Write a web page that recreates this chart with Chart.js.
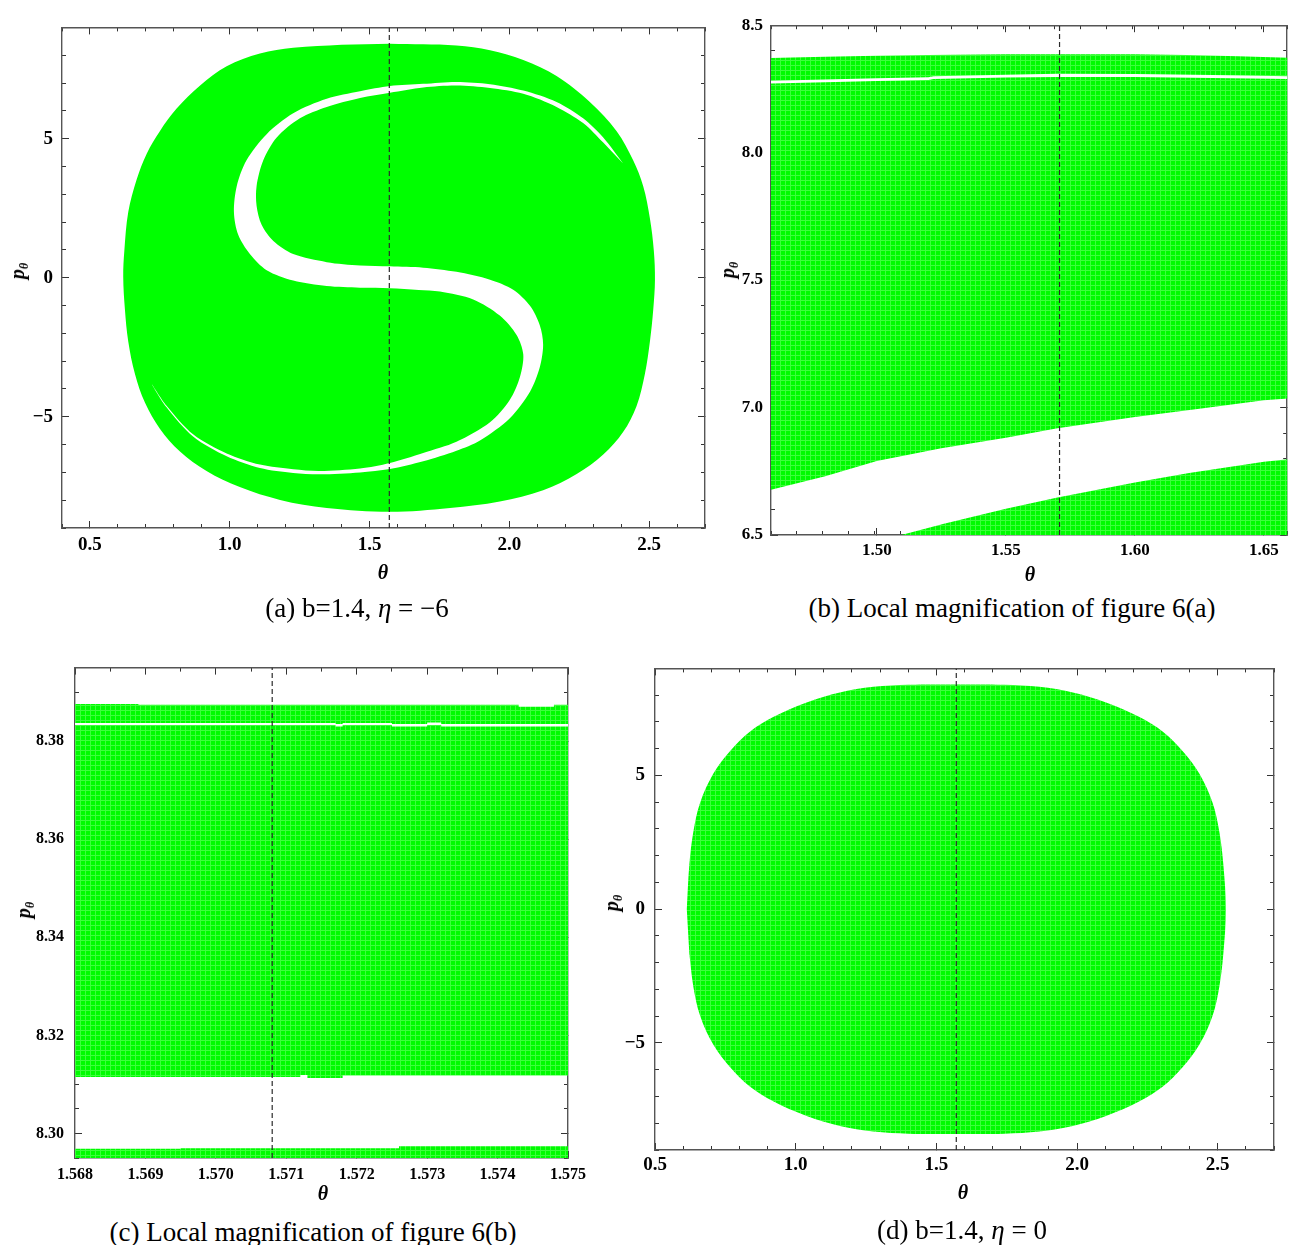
<!DOCTYPE html>
<html>
<head>
<meta charset="utf-8">
<script src="https://cdn.jsdelivr.net/npm/chart.js@4.4.1/dist/chart.umd.min.js"></script>
<style>
  body { margin: 0; background: #fff; }
  #page { position: relative; width: 1291px; height: 1245px; overflow: hidden; }
  canvas { position: absolute; }
  .lab { position: absolute; transform: translate(-50%, -50%); white-space: nowrap;
         font-family: 'Liberation Serif', 'Times New Roman', serif; color: #000; }
  .ax { font-weight: bold; font-style: italic; font-size: 20px; }
  .ylab { transform: translate(-50%, -50%) rotate(-90deg); }
  .ax sub { font-size: 12px; vertical-align: -4px; }
  .cap { font-size: 27px; }
</style>
</head>
<body>
<div id="page">
  <canvas id="chartA" width="720" height="590" style="left:0px;top:0px"></canvas>
  <canvas id="chartB" width="571" height="590" style="left:720px;top:0px"></canvas>
  <canvas id="chartC" width="600" height="560" style="left:0px;top:640px"></canvas>
  <canvas id="chartD" width="691" height="560" style="left:600px;top:640px"></canvas>

  <div class="lab ax" style="left:383px;top:572px">θ</div>
  <div class="lab ax ylab" style="left:19px;top:271px">p<sub>θ</sub></div>
  <div class="lab cap" style="left:357px;top:608px">(a) b=1.4, <i>η</i> = −6</div>

  <div class="lab ax" style="left:1030px;top:574px">θ</div>
  <div class="lab ax ylab" style="left:729px;top:270px">p<sub>θ</sub></div>
  <div class="lab cap" style="left:1012px;top:608px">(b) Local magnification of figure 6(a)</div>

  <div class="lab ax" style="left:323px;top:1193px">θ</div>
  <div class="lab ax ylab" style="left:25px;top:910px">p<sub>θ</sub></div>
  <div class="lab cap" style="left:313px;top:1232px">(c) Local magnification of figure 6(b)</div>

  <div class="lab ax" style="left:963px;top:1192px">θ</div>
  <div class="lab ax ylab" style="left:613px;top:903px">p<sub>θ</sub></div>
  <div class="lab cap" style="left:962px;top:1230px">(d) b=1.4, <i>η</i> = 0</div>
</div>
<script>
// ---------- data ----------
const dashTheta = 1.5708; // θ = π/2 guide line

// (a) b=1.4, η=-6 : outer boundary of the green region
const aOuterTheta = [1.573, 1.811, 1.931, 2.050, 2.169, 2.288, 2.384, 2.443, 2.479, 2.503, 2.517, 2.521,
  2.515, 2.503, 2.485, 2.455, 2.407, 2.336, 2.241, 2.121, 1.966, 1.788, 1.573,
  1.347, 1.180, 1.036, 0.917, 0.822, 0.750, 0.697, 0.661, 0.637, 0.625, 0.619,
  0.623, 0.637, 0.667, 0.703, 0.750, 0.810, 0.893, 0.989, 1.108, 1.227, 1.400];
const aOuterP = [8.41, 8.35, 8.18, 7.83, 7.25, 6.32, 5.27, 4.22, 3.29, 2.13, 0.97, -0.08,
  -1.13, -2.29, -3.46, -4.62, -5.55, -6.36, -7.06, -7.64, -8.05, -8.28, -8.42,
  -8.28, -7.99, -7.53, -6.95, -6.25, -5.43, -4.50, -3.46, -2.29, -1.13, 0.03,
  0.97, 2.36, 3.53, 4.46, 5.27, 6.08, 6.90, 7.60, 8.06, 8.27, 8.38];

// (a) the white S-shaped band (tip -> outer upper lobe -> inner lower lobe -> tip -> back)
const aBandTheta = [2.407, 2.336, 2.264, 2.169, 2.050, 1.931, 1.811, 1.692, 1.573, 1.466, 1.347, 1.227,
  1.132, 1.060, 1.025, 1.015, 1.030, 1.072, 1.132, 1.227, 1.347, 1.466, 1.573, 1.676, 1.752, 1.871,
  1.966, 2.026, 2.050, 2.038, 2.002, 1.931, 1.811, 1.692, 1.573, 1.466, 1.322, 1.227, 1.108, 0.989,
  0.870, 0.774, 0.720,
  0.774, 0.870, 0.989, 1.108, 1.227, 1.322, 1.466, 1.573, 1.692, 1.811, 1.895, 2.002, 2.074, 2.109,
  2.121, 2.109, 2.074, 2.014, 1.931, 1.811, 1.692, 1.573, 1.466, 1.347, 1.227, 1.156, 1.114, 1.096,
  1.096, 1.120, 1.168, 1.251, 1.347, 1.466, 1.573, 1.692, 1.811, 1.931, 2.050, 2.169, 2.264, 2.336];
const aBandP = [4.11, 5.04, 5.73, 6.32, 6.73, 6.96, 7.04, 6.97, 6.89, 6.70, 6.43, 5.91,
  5.16, 4.22, 3.29, 2.36, 1.55, 0.85, 0.27, -0.10, -0.30, -0.36, -0.38, -0.44, -0.50, -0.78,
  -1.36, -2.06, -2.76, -3.57, -4.39, -5.20, -5.90, -6.30, -6.66, -6.86, -6.95, -6.89, -6.72, -6.32,
  -5.64, -4.60, -3.80,
  -4.66, -5.72, -6.42, -6.84, -7.02, -7.07, -7.00, -6.88, -6.60, -6.22, -5.85, -5.05, -4.10, -3.22,
  -2.41, -1.71, -1.01, -0.43, -0.07, 0.21, 0.36, 0.41, 0.44, 0.56, 0.85, 1.32, 1.90, 2.59,
  3.29, 4.22, 5.04, 5.73, 6.14, 6.46, 6.65, 6.84, 6.91, 6.82, 6.61, 6.14, 5.56, 4.86];

// (b) zoom of (a) near the top
const bGreenTheta = [1.455, 1.480, 1.500, 1.520, 1.550, 1.570, 1.600, 1.620, 1.640, 1.665,
  1.665, 1.650, 1.625, 1.600, 1.570, 1.550, 1.525, 1.500, 1.480, 1.455];
const bGreenP = [8.370, 8.376, 8.380, 8.383, 8.386, 8.386, 8.386, 8.383, 8.378, 8.371,
  7.040, 7.029, 6.995, 6.963, 6.919, 6.882, 6.840, 6.790, 6.730, 6.667];
const bLineTheta = [1.455, 1.480, 1.500, 1.520, 1.522, 1.550, 1.570, 1.600, 1.630, 1.665,
  1.665, 1.630, 1.600, 1.570, 1.550, 1.522, 1.520, 1.500, 1.480, 1.455];
const bLineP = [8.281, 8.287, 8.292, 8.296, 8.300, 8.306, 8.310, 8.309, 8.305, 8.299,
  8.288, 8.293, 8.297, 8.297, 8.295, 8.289, 8.285, 8.281, 8.276, 8.270];
const bLowTheta = [1.491, 1.5095, 1.526, 1.550, 1.570, 1.600, 1.621, 1.650, 1.665, 1.665, 1.491];
const bLowP = [6.45, 6.500, 6.544, 6.603, 6.647, 6.706, 6.743, 6.787, 6.803, 6.45, 6.45];

// (c) zoom of (b) near the top
const cUpperTheta = [1.5675, 1.5689, 1.5689, 1.5743, 1.5743, 1.5748, 1.5748, 1.5755,
  1.5755, 1.5718, 1.5718, 1.5713, 1.5713, 1.5712, 1.5712, 1.5675];
const cUpperP = [8.3876, 8.3876, 8.3874, 8.3874, 8.3870, 8.3870, 8.3874, 8.3874,
  8.3118, 8.3118, 8.3113, 8.3113, 8.3119, 8.3119, 8.3115, 8.3115];
const cLineTheta = [1.5675, 1.5717, 1.5717, 1.5718, 1.5718, 1.5725, 1.5725, 1.5730, 1.5730, 1.5732, 1.5732, 1.5755,
  1.5755, 1.5732, 1.5732, 1.5730, 1.5730, 1.5725, 1.5725, 1.5718, 1.5718, 1.5717, 1.5717, 1.5675];
const cLineP = [8.3837, 8.3837, 8.3835, 8.3835, 8.3837, 8.3837, 8.3835, 8.3835, 8.3838, 8.3838, 8.3835, 8.3835,
  8.3830, 8.3830, 8.3833, 8.3833, 8.3830, 8.3830, 8.3833, 8.3833, 8.3830, 8.3830, 8.3833, 8.3833];
const cLowerTheta = [1.5675, 1.5695, 1.5695, 1.5726, 1.5726, 1.5755, 1.5755, 1.5675];
const cLowerP = [8.2969, 8.2969, 8.2970, 8.2970, 8.2974, 8.2974, 8.2940, 8.2940];

// (d) b=1.4, η=0 : outer boundary
const dOuterTheta = [0.613, 0.622, 0.636, 0.660, 0.707, 0.767, 0.838, 0.920, 1.039, 1.157, 1.276, 1.400, 1.571,
  1.742, 1.866, 1.985, 2.103, 2.222, 2.304, 2.375, 2.435, 2.482, 2.506, 2.520, 2.529,
  2.520, 2.506, 2.482, 2.435, 2.375, 2.304, 2.222, 2.103, 1.985, 1.866, 1.742, 1.571,
  1.400, 1.276, 1.157, 1.039, 0.920, 0.838, 0.767, 0.707, 0.660, 0.636, 0.622];
const dOuterP = [0, 1.66, 2.88, 3.97, 5.06, 5.91, 6.64, 7.18, 7.73, 8.10, 8.31, 8.39, 8.40,
  8.39, 8.31, 8.10, 7.73, 7.18, 6.64, 5.91, 5.06, 3.97, 2.88, 1.66, 0,
  -1.66, -2.88, -3.97, -5.06, -5.91, -6.64, -7.18, -7.73, -8.10, -8.31, -8.39, -8.40,
  -8.39, -8.31, -8.10, -7.73, -7.18, -6.64, -5.91, -5.06, -3.97, -2.88, -1.66];

// tick labels
const aXTicks = [0.5, 1.0, 1.5, 2.0, 2.5];
const aYTicks = [-5, 0, 5];
const bXTicks = [1.50, 1.55, 1.60, 1.65];
const bYTicks = [6.5, 7.0, 7.5, 8.0, 8.5];
const cXTicks = [1.568, 1.569, 1.570, 1.571, 1.572, 1.573, 1.574, 1.575];
const cYTicks = [8.30, 8.32, 8.34, 8.36, 8.38];
const dXTicks = [0.5, 1.0, 1.5, 2.0, 2.5];
const dYTicks = [-5, 0, 5];

// ---------- helpers ----------
const GREEN = '#00ff00';

// faint dot grid seen in the zoomed panels
function dottedGreen() {
  const c = document.createElement('canvas');
  c.width = 5; c.height = 5;
  const g = c.getContext('2d');
  g.fillStyle = '#00fb00';
  g.fillRect(0, 0, 5, 5);
  g.fillStyle = '#3cff3c';
  g.fillRect(0, 0, 5, 1);
  g.fillRect(0, 0, 1, 5);
  return g.createPattern(c, 'repeat');
}
const GREEN_DOTS = dottedGreen();

function shape(thetas, ps, color, order, tension) {
  return {
    data: thetas.map((t, i) => ({ x: t, y: ps[i] })),
    borderColor: 'rgba(0,0,0,0)',
    borderWidth: 0,
    backgroundColor: color,
    fill: 'shape',
    pointRadius: 0,
    tension: tension || 0,
    order: order
  };
}

function guide(y0, y1) {
  return {
    data: [{ x: dashTheta, y: y0 }, { x: dashTheta, y: y1 }],
    borderColor: '#2a2a2a',
    borderWidth: 1.2,
    borderDash: [5, 3],
    fill: false,
    pointRadius: 0,
    order: 0
  };
}

const minus = v => (v < 0 ? '\u2212' + Math.abs(v) : String(v));

function frameScales(o) {
  const font = { family: "'Liberation Serif', 'Times New Roman', serif", weight: 'bold', size: o.font };
  const grid = len => ({ drawOnChartArea: false, drawTicks: true, tickLength: -len, tickColor: '#333', tickWidth: 1 });
  const border = { display: true, color: '#555', width: 1.4 };
  const fixed = list => s => { s.ticks = list.map(v => ({ value: v })); };
  const zeroH = s => { s.height = 0; };
  const zeroW = s => { s.width = 0; };
  const xr = { type: 'linear', min: o.xMin, max: o.xMax };
  const yr = { type: 'linear', min: o.yMin, max: o.yMax };
  return {
    x: Object.assign({}, xr, {
      position: 'bottom', weight: 1, afterBuildTicks: fixed(o.xTicks),
      ticks: { font, color: '#000', padding: o.xPad, maxRotation: 0, autoSkip: false, callback: o.xFmt },
      grid: grid(7), border, afterFit: s => { s.height = o.xH; }
    }),
    xMinor: Object.assign({}, xr, {
      position: 'bottom', weight: 0,
      ticks: { display: false, stepSize: o.xStep, includeBounds: false },
      grid: grid(4), border: { display: false }, afterFit: zeroH
    }),
    xTop: Object.assign({}, xr, {
      position: 'top', afterBuildTicks: fixed(o.xTicks), ticks: { display: false },
      grid: grid(7), border, afterFit: zeroH
    }),
    xTopMinor: Object.assign({}, xr, {
      position: 'top', ticks: { display: false, stepSize: o.xStep, includeBounds: false },
      grid: grid(4), border: { display: false }, afterFit: zeroH
    }),
    y: Object.assign({}, yr, {
      position: 'left', weight: 1, afterBuildTicks: fixed(o.yTicks),
      ticks: { font, color: '#000', padding: o.yPad, autoSkip: false, callback: o.yFmt },
      grid: grid(7), border, afterFit: s => { s.width = o.yW; }
    }),
    yMinor: Object.assign({}, yr, {
      position: 'left', weight: 0, ticks: { display: false, stepSize: o.yStep, includeBounds: false },
      grid: grid(4), border: { display: false }, afterFit: zeroW
    }),
    yRight: Object.assign({}, yr, {
      position: 'right', afterBuildTicks: fixed(o.yTicks), ticks: { display: false },
      grid: grid(7), border, afterFit: zeroW
    }),
    yRightMinor: Object.assign({}, yr, {
      position: 'right', ticks: { display: false, stepSize: o.yStep, includeBounds: false },
      grid: grid(4), border: { display: false }, afterFit: zeroW
    })
  };
}

function makeChart(id, datasets, o) {
  return new Chart(document.getElementById(id), {
    type: 'line',
    data: { datasets },
    options: {
      responsive: false,
      animation: false,
      devicePixelRatio: 1,
      events: [],
      layout: { padding: { top: o.padTop, right: o.padRight, left: 0, bottom: 0 } },
      plugins: { legend: { display: false }, tooltip: { enabled: false } },
      scales: frameScales(o)
    }
  });
}

// ---------- panels ----------
makeChart('chartA', [
  shape(aOuterTheta, aOuterP, GREEN, 3, 0.35),
  shape(aBandTheta, aBandP, '#ffffff', 2, 0.3),
  guide(-9, 9)
], {
  xMin: 0.4, xMax: 2.7, yMin: -9, yMax: 9, xTicks: aXTicks, yTicks: aYTicks, xStep: 0.1, yStep: 1,
  xFmt: v => v.toFixed(1), yFmt: minus, font: 19, xPad: 13, yPad: 16,
  padTop: 14, padRight: 15, yW: 62, xH: 62
});

makeChart('chartB', [
  shape(bGreenTheta, bGreenP, GREEN_DOTS, 4),
  shape(bLineTheta, bLineP, '#ffffff', 3),
  shape(bLowTheta, bLowP, GREEN_DOTS, 2),
  guide(6.5, 8.5)
], {
  xMin: 1.459, xMax: 1.659, yMin: 6.5, yMax: 8.5, xTicks: bXTicks, yTicks: bYTicks, xStep: 0.01, yStep: 0.1,
  xFmt: v => v.toFixed(2), yFmt: v => v.toFixed(1), font: 17, xPad: 12, yPad: 15,
  padTop: 14, padRight: 2, yW: 51, xH: 55
});

makeChart('chartC', [
  shape(cUpperTheta, cUpperP, GREEN_DOTS, 4),
  shape(cLineTheta, cLineP, '#ffffff', 3),
  shape(cLowerTheta, cLowerP, GREEN_DOTS, 2),
  guide(8.295, 8.395)
], {
  xMin: 1.568, xMax: 1.575, yMin: 8.295, yMax: 8.395, xTicks: cXTicks, yTicks: cYTicks, xStep: 0.0005, yStep: 0.005,
  xFmt: v => v.toFixed(3), yFmt: v => v.toFixed(2), font: 16, xPad: 14, yPad: 18,
  padTop: 21, padRight: 29, yW: 75, xH: 42
});

makeChart('chartD', [
  shape(dOuterTheta, dOuterP, GREEN_DOTS, 3, 0.35),
  guide(-9, 9)
], {
  xMin: 0.5, xMax: 2.7, yMin: -9, yMax: 9, xTicks: dXTicks, yTicks: dYTicks, xStep: 0.1, yStep: 1,
  xFmt: v => v.toFixed(1), yFmt: minus, font: 19, xPad: 11, yPad: 17,
  padTop: 15, padRight: 17, yW: 55, xH: 50
});
</script>
</body>
</html>
